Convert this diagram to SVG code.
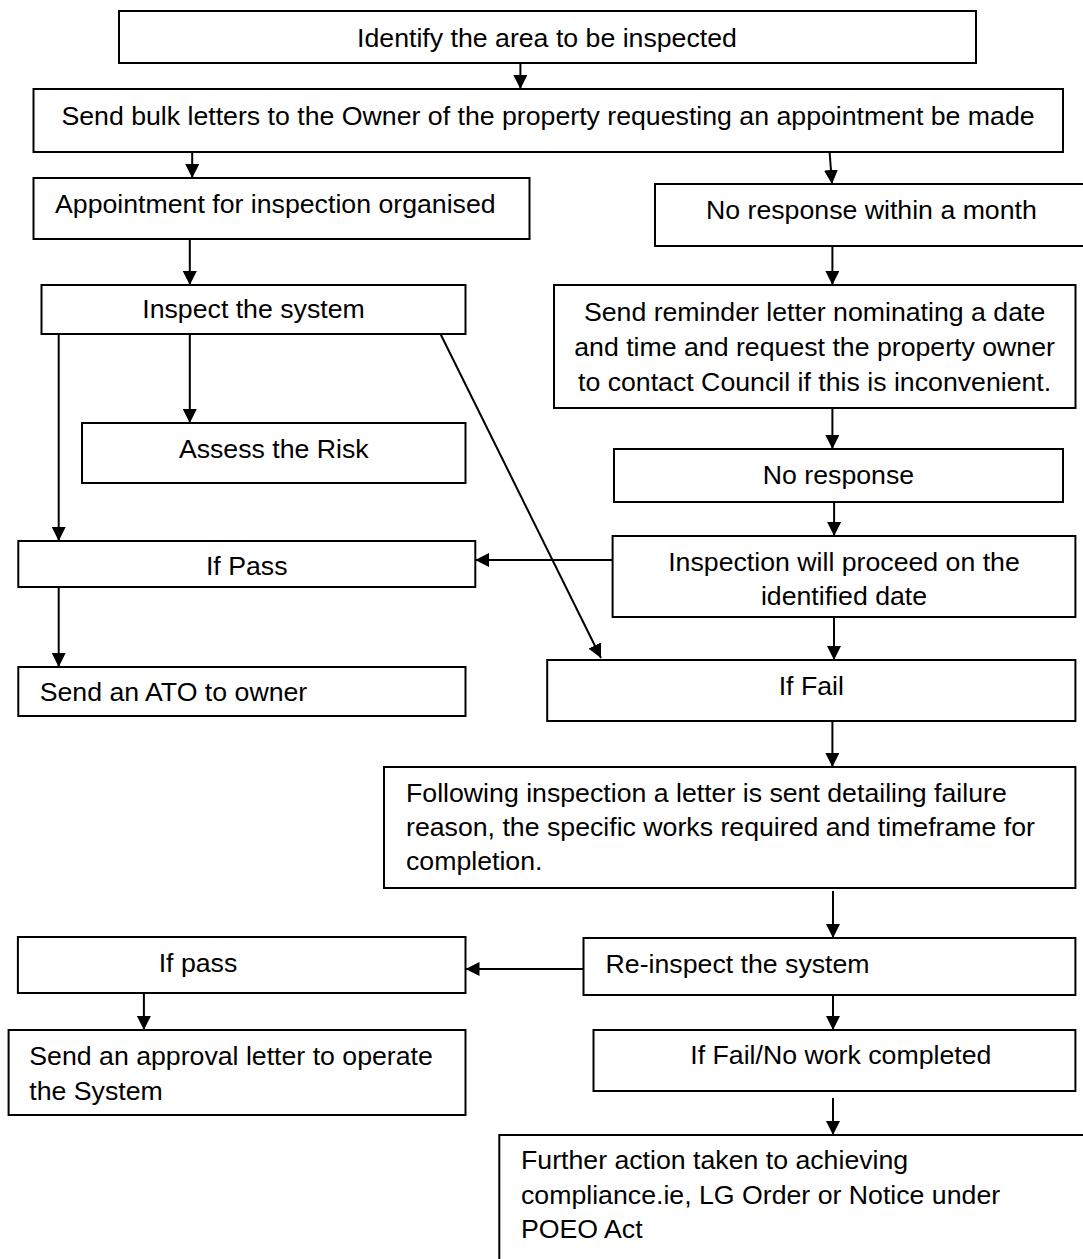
<svg xmlns="http://www.w3.org/2000/svg" width="1083" height="1259" viewBox="0 0 1083 1259">
<defs>
<marker id="ah" markerUnits="userSpaceOnUse" markerWidth="14" markerHeight="14" refX="14" refY="7" orient="auto">
<path d="M0,0 L14,7 L0,14 z" fill="#000"/>
</marker>
<style>
rect.box{fill:#fff;stroke:#000;stroke-width:2}
text{font-family:"Liberation Sans",Arial,sans-serif;font-size:26.7px;fill:#000}
text.c{text-anchor:middle}
line.con{stroke:#000;stroke-width:2;marker-end:url(#ah)}
</style>
</defs>
<rect width="1083" height="1259" fill="#fff"/>
<g id="nodes">
<g id="n1"><rect class="box" x="119" y="11" width="857" height="52"/><text class="c" x="547" y="47">Identify the area to be inspected</text></g>
<g id="n2"><rect class="box" x="33.5" y="89" width="1029.5" height="63"/><text class="c" x="548" y="125">Send bulk letters to the Owner of the property requesting an appointment be made</text></g>
<g id="n3"><rect class="box" x="33.5" y="178" width="496" height="61"/><text x="55" y="213">Appointment for inspection organised</text></g>
<g id="n4"><rect class="box" x="655" y="184" width="440" height="62"/><text x="706" y="219">No response within a month</text></g>
<g id="n5"><rect class="box" x="41.5" y="285" width="424" height="49"/><text class="c" x="253.5" y="318">Inspect the system</text></g>
<g id="n6"><rect class="box" x="554" y="285" width="521.5" height="123"/><text class="c" x="814.6" y="321">Send reminder letter nominating a date</text><text class="c" x="814.6" y="356">and time and request the property owner</text><text class="c" x="814.6" y="391">to contact Council if this is inconvenient.</text></g>
<g id="n7"><rect class="box" x="82" y="423" width="383.5" height="60"/><text class="c" x="273.8" y="458">Assess the Risk</text></g>
<g id="n8"><rect class="box" x="614" y="449" width="449" height="53"/><text class="c" x="838.5" y="484">No response</text></g>
<g id="n9"><rect class="box" x="18.3" y="541" width="457" height="46"/><text class="c" x="246.7" y="575">If Pass</text></g>
<g id="n10"><rect class="box" x="612.6" y="536" width="462.8" height="81"/><text class="c" x="844" y="571">Inspection will proceed on the</text><text class="c" x="844" y="605">identified date</text></g>
<g id="n11"><rect class="box" x="18.3" y="667" width="447.2" height="49"/><text x="39.7" y="701">Send an ATO to owner</text></g>
<g id="n12"><rect class="box" x="547.2" y="660" width="528.2" height="61"/><text class="c" x="811.3" y="695">If Fail</text></g>
<g id="n13"><rect class="box" x="384" y="767" width="691.4" height="121"/><text x="406" y="802">Following inspection a letter is sent detailing failure</text><text x="406" y="836">reason, the specific works required and timeframe for</text><text x="406" y="870">completion.</text></g>
<g id="n14"><rect class="box" x="17.9" y="937" width="447.6" height="56"/><text x="158.7" y="972">If pass</text></g>
<g id="n15"><rect class="box" x="583.5" y="938" width="491.9" height="57"/><text x="605.6" y="973">Re-inspect the system</text></g>
<g id="n16"><rect class="box" x="8.6" y="1030" width="456.9" height="85"/><text x="29.3" y="1065">Send an approval letter to operate</text><text x="29.3" y="1100">the System</text></g>
<g id="n17"><rect class="box" x="593.5" y="1030" width="481.9" height="61"/><text x="690.3" y="1064">If Fail/No work completed</text></g>
<g id="n18"><rect class="box" x="499.3" y="1135" width="620" height="140"/><text x="521" y="1169">Further action taken to achieving</text><text x="521" y="1204">compliance.ie, LG Order or Notice under</text><text x="521" y="1238">POEO Act</text></g>
</g>
<g id="connectors">
<line class="con" x1="520.4" y1="63" x2="520.4" y2="89"/>
<line class="con" x1="192.2" y1="152" x2="192.2" y2="178"/>
<line class="con" x1="829.6" y1="152" x2="832" y2="184"/>
<line class="con" x1="189.8" y1="239" x2="189.8" y2="285"/>
<line class="con" x1="832.4" y1="246" x2="832.4" y2="285"/>
<line class="con" x1="58.7" y1="334" x2="58.7" y2="541"/>
<line class="con" x1="189.8" y1="334" x2="189.8" y2="423"/>
<line class="con" x1="440.5" y1="334" x2="601" y2="658"/>
<line class="con" x1="832.4" y1="408" x2="832.4" y2="449"/>
<line class="con" x1="834.1" y1="502" x2="834.1" y2="536"/>
<line class="con" x1="612.6" y1="560" x2="475.2" y2="560"/>
<line class="con" x1="58.7" y1="587" x2="58.7" y2="667"/>
<line class="con" x1="834" y1="617" x2="834" y2="660"/>
<line class="con" x1="832.4" y1="721" x2="832.4" y2="767"/>
<line class="con" x1="833" y1="891" x2="833" y2="938"/>
<line class="con" x1="583.5" y1="969" x2="465.5" y2="969"/>
<line class="con" x1="143.9" y1="993" x2="143.9" y2="1030"/>
<line class="con" x1="833" y1="995" x2="833" y2="1030"/>
<line class="con" x1="833" y1="1098" x2="833" y2="1135"/>
</g>
</svg>
